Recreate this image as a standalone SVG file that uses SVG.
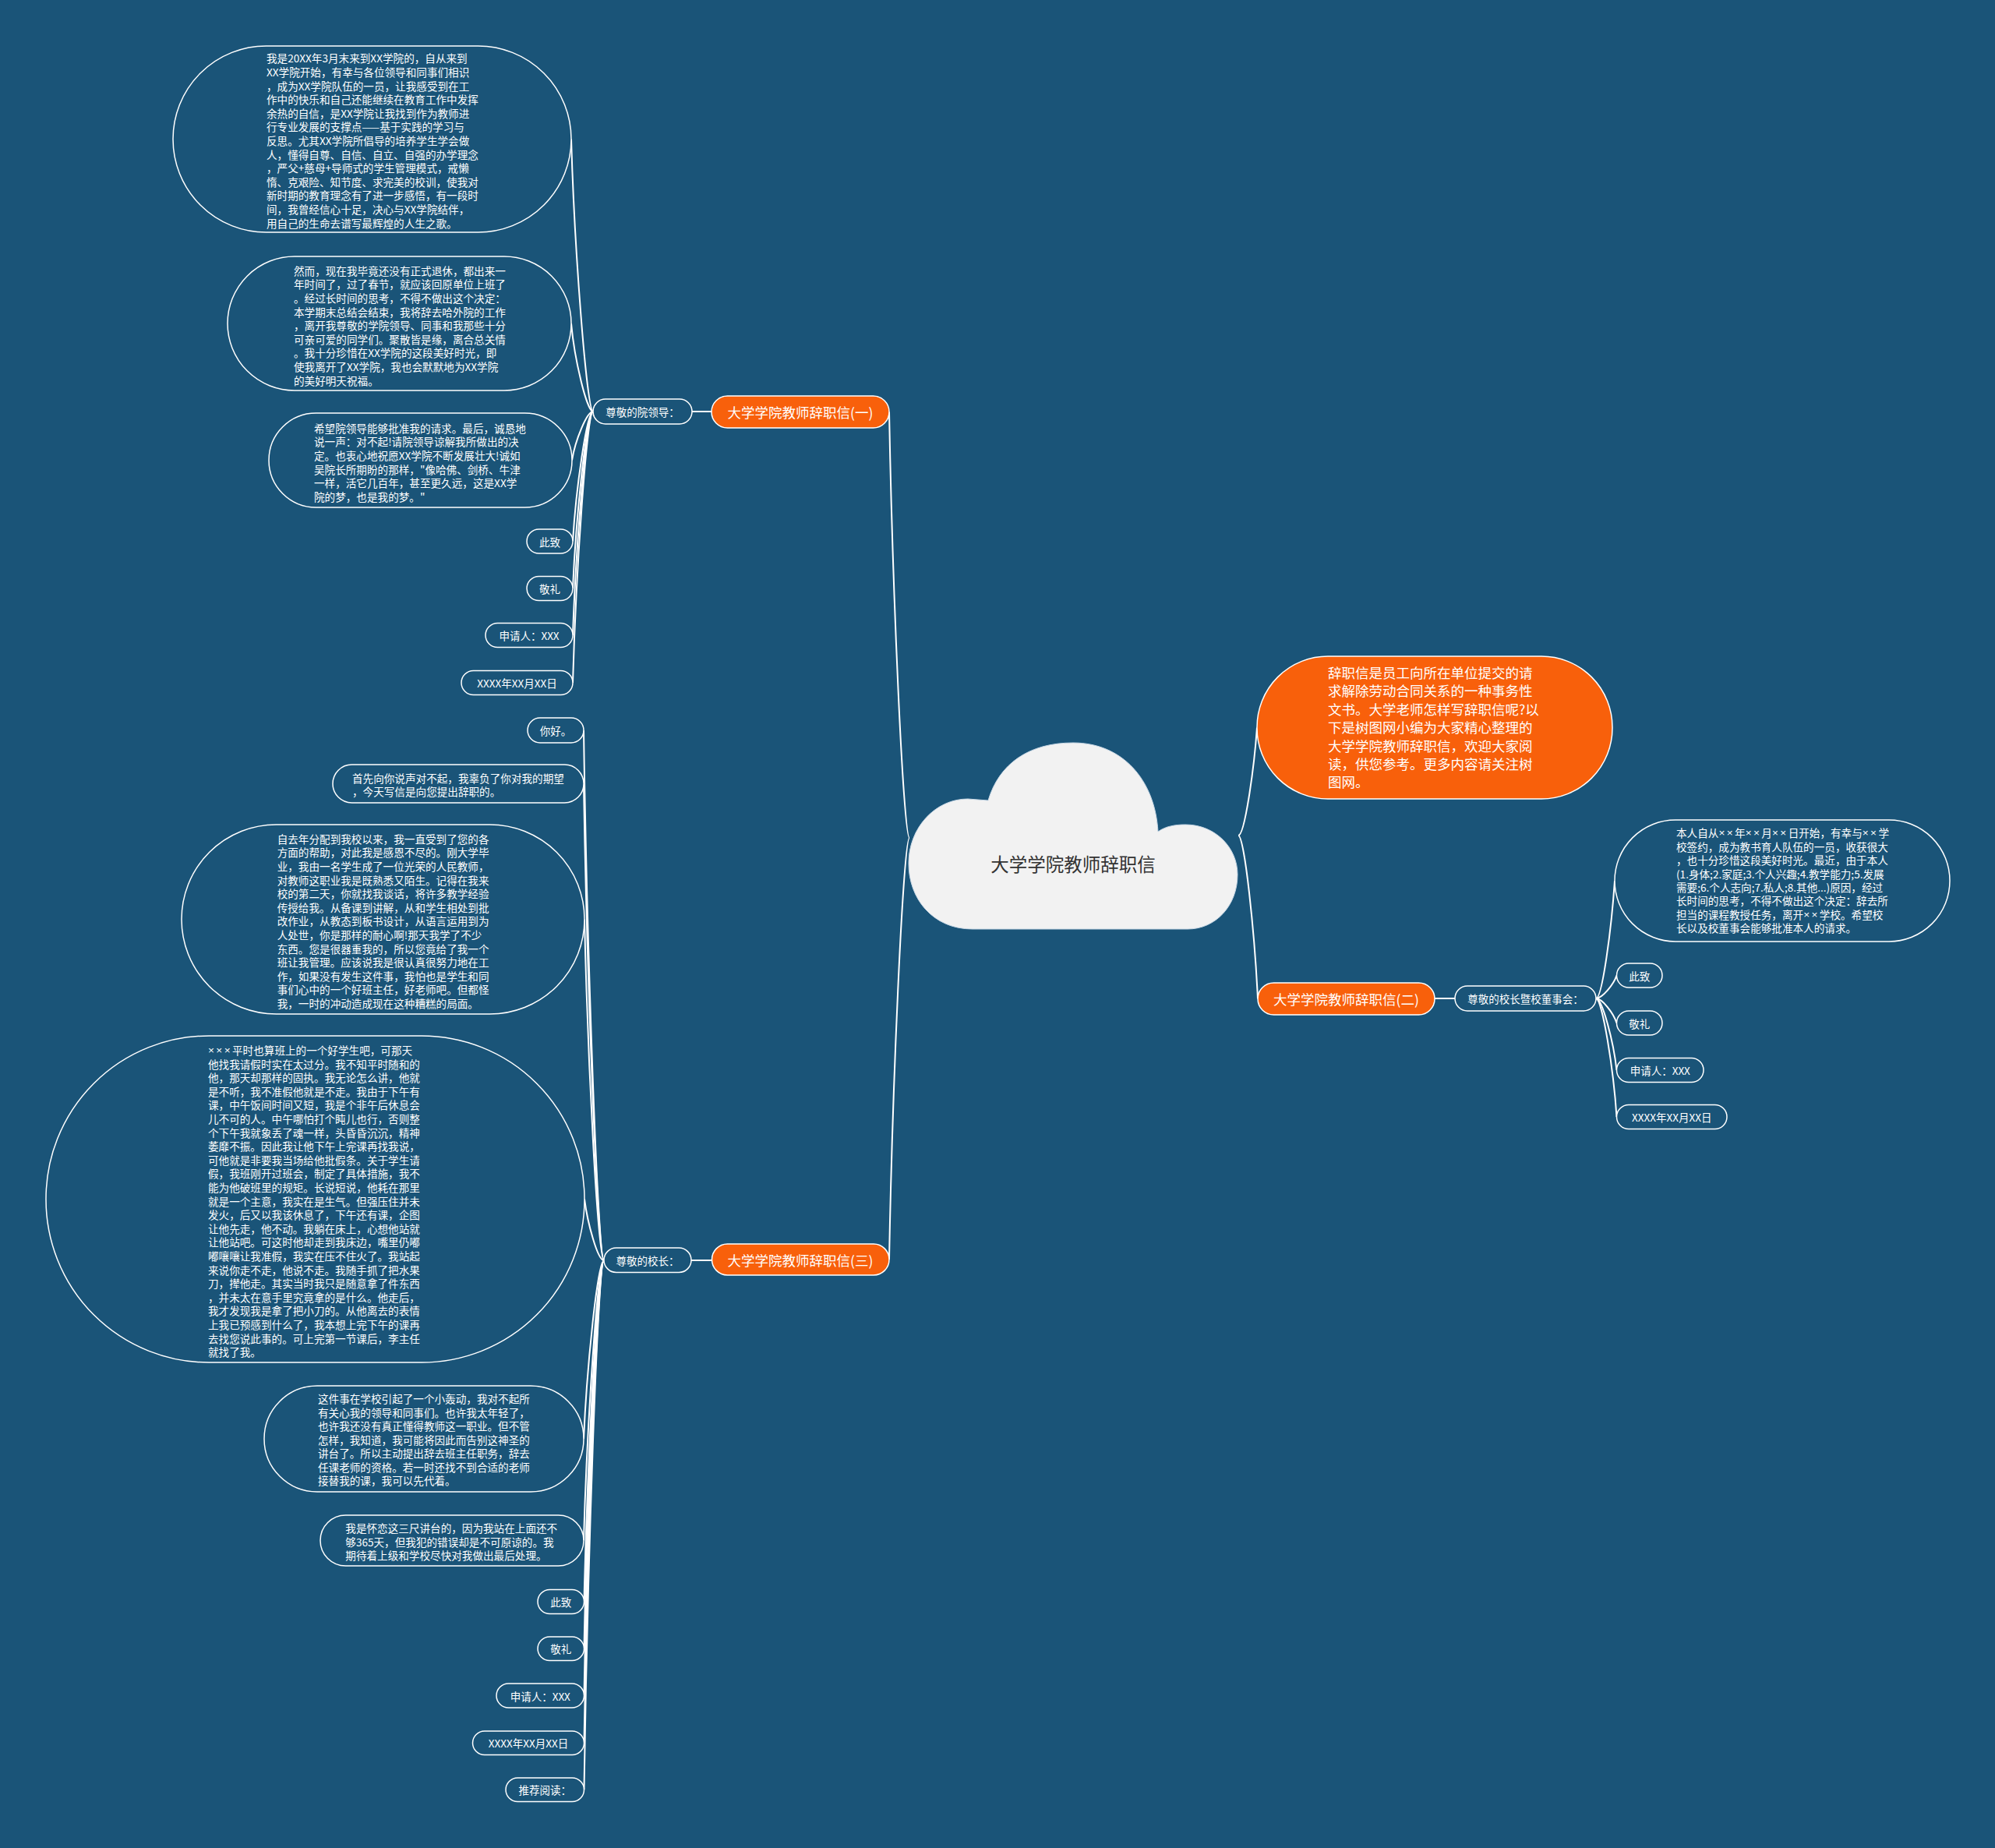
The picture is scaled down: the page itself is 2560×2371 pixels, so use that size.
<svg xmlns="http://www.w3.org/2000/svg" width="2560" height="2371" viewBox="0 0 2560 2371">
<style>
.bg{fill:#1a5478}
.box{fill:#1a5478;stroke:#ffffff;stroke-width:1.5}
.org{fill:#f8600b;stroke:#ffffff;stroke-width:1.5}
.link{fill:none;stroke:#ffffff;stroke-width:2}
text{font-family:"Noto Sans CJK SC","Liberation Sans",sans-serif;fill:#ffffff;dominant-baseline:central}
.lat{font-family:"Liberation Sans","Noto Sans CJK SC",sans-serif;letter-spacing:2.4px}
.p{font-size:13.6px}
.s{font-size:13.5px;text-anchor:middle}
.o{font-size:17.5px;text-anchor:middle}
.i{font-size:17.5px}
.root{font-size:23.5px;text-anchor:middle;fill:#333333}
</style>
<rect class="bg" x="0" y="0" width="2560" height="2371"/>
<g id="connectors">
<path class="link" d="M1589,1072 C1597,1072 1609,988.9 1613,933.5"/>
<path class="link" d="M1589,1072 C1597,1072 1610,1197.7 1614,1281.5"/>
<path class="link" d="M1167,1075 C1159,1075 1145,747.1 1141,528.5"/>
<path class="link" d="M1167,1075 C1159,1075 1145,1399.6 1141,1616"/>
<path class="link" d="M888,528 L913,528"/>
<path class="link" d="M761,528 C753,528 737,318 733,178.5"/>
<path class="link" d="M761,528 C753,528 737,460.2 733,415"/>
<path class="link" d="M761,528 C753,528 738,565.5 734,590.5"/>
<path class="link" d="M761,528 C753,528 739,627.9 735,694.5"/>
<path class="link" d="M761,528 C753,528 739,664.2 735,755"/>
<path class="link" d="M761,528 C753,528 739,700.2 735,815"/>
<path class="link" d="M761,528 C753,528 739,736.8 735,876"/>
<path class="link" d="M1841,1281 L1867,1281"/>
<path class="link" d="M2048,1281 C2056,1281 2068,1190.4 2072,1130"/>
<path class="link" d="M2048,1281 C2056,1281 2070.5,1263.3 2074.5,1251.5"/>
<path class="link" d="M2048,1281 C2056,1281 2070.5,1299.9 2074.5,1312.5"/>
<path class="link" d="M2048,1281 C2056,1281 2070.5,1336.2 2074.5,1373"/>
<path class="link" d="M2048,1281 C2056,1281 2070.5,1372.2 2074.5,1433"/>
<path class="link" d="M887,1617 L913.5,1617"/>
<path class="link" d="M775,1617 C767,1617 753,1209 749,937"/>
<path class="link" d="M775,1617 C767,1617 753,1250.1 749,1005.5"/>
<path class="link" d="M775,1617 C767,1617 754,1354.5 750,1179.5"/>
<path class="link" d="M775,1617 C767,1617 754,1569.9 750,1538.5"/>
<path class="link" d="M775,1617 C767,1617 753,1754.4 749,1846"/>
<path class="link" d="M775,1617 C767,1617 753,1832.6 749,1976.4"/>
<path class="link" d="M775,1617 C767,1617 753.5,1879.8 749.5,2055"/>
<path class="link" d="M775,1617 C767,1617 753.5,1915.8 749.5,2115"/>
<path class="link" d="M775,1617 C767,1617 753.5,1952.1 749.5,2175.5"/>
<path class="link" d="M775,1617 C767,1617 753.5,1988.4 749.5,2236"/>
<path class="link" d="M775,1617 C767,1617 753.5,2024.4 749.5,2296"/>
</g>
<g id="root">
<path d="M1248,1192 C1196,1192 1166,1152 1166,1108 C1166,1062 1200,1025 1242,1025 L1268,1027 C1282,980 1320,953 1377,953 C1440,953 1482,1000 1486,1067 C1496,1060 1508,1058 1521,1058 C1560,1058 1588,1088 1588,1122 C1588,1162 1560,1192 1524,1192 Z" fill="#f2f2f2" stroke="#c8d8e6" stroke-width="1"/>
<text class="root" x="1377" y="1108">大学学院教师辞职信</text>
</g>
<g id="intro">
<rect class="org" x="1613" y="842" width="456" height="183" rx="91" ry="91"/>
<text class="i" x="1704"><tspan x="1704" y="862">辞职信是员工向所在单位提交的请</tspan><tspan x="1704" y="885.4">求解除劳动合同关系的一种事务性</tspan><tspan x="1704" y="908.8">文书。大学老师怎样写辞职信呢?以</tspan><tspan x="1704" y="932.2">下是树图网小编为大家精心整理的</tspan><tspan x="1704" y="955.6">大学学院教师辞职信，欢迎大家阅</tspan><tspan x="1704" y="979">读，供您参考。更多内容请关注树</tspan><tspan x="1704" y="1002.4">图网。</tspan></text>
</g>
<g id="b1">
<rect class="org" x="913" y="508" width="228" height="41" rx="20.5" ry="20.5"/>
<text class="o" x="1027" y="528.5">大学学院教师辞职信(一)</text>
</g>
<g id="b1-to">
<rect class="box" x="761" y="512" width="127" height="32" rx="16" ry="16"/>
<text class="s" x="824.5" y="528">尊敬的院领导：</text>
</g>
<g id="b1-p1">
<rect class="box" x="222" y="59" width="511" height="239" rx="119.5" ry="119.5"/>
<text class="p"><tspan x="342" y="74.3">我是20XX年3月末来到XX学院的，自从来到</tspan><tspan x="342" y="91.9">XX学院开始，有幸与各位领导和同事们相识</tspan><tspan x="342" y="109.5">，成为XX学院队伍的一员，让我感受到在工</tspan><tspan x="342" y="127.1">作中的快乐和自己还能继续在教育工作中发挥</tspan><tspan x="342" y="144.7">余热的自信，是XX学院让我找到作为教师进</tspan><tspan x="342" y="162.3">行专业发展的支撑点——基于实践的学习与</tspan><tspan x="342" y="179.9">反思。尤其XX学院所倡导的培养学生学会做</tspan><tspan x="342" y="197.5">人，懂得自尊、自信、自立、自强的办学理念</tspan><tspan x="342" y="215.1">，严父+慈母+导师式的学生管理模式，戒懒</tspan><tspan x="342" y="232.7">惰、克艰险、知节度、求完美的校训，使我对</tspan><tspan x="342" y="250.3">新时期的教育理念有了进一步感悟，有一段时</tspan><tspan x="342" y="267.9">间，我曾经信心十足，决心与XX学院结伴，</tspan><tspan x="342" y="285.5">用自己的生命去谱写最辉煌的人生之歌。</tspan></text>
</g>
<g id="b1-p2">
<rect class="box" x="292" y="329" width="441" height="172" rx="86" ry="86"/>
<text class="p"><tspan x="377" y="346.7">然而，现在我毕竟还没有正式退休，都出来一</tspan><tspan x="377" y="364.3">年时间了，过了春节，就应该回原单位上班了</tspan><tspan x="377" y="381.9">。经过长时间的思考，不得不做出这个决定：</tspan><tspan x="377" y="399.5">本学期末总结会结束，我将辞去哈外院的工作</tspan><tspan x="377" y="417.1">，离开我尊敬的学院领导、同事和我那些十分</tspan><tspan x="377" y="434.7">可亲可爱的同学们。聚散皆是缘，离合总关情</tspan><tspan x="377" y="452.3">。我十分珍惜在XX学院的这段美好时光，即</tspan><tspan x="377" y="469.9">使我离开了XX学院，我也会默默地为XX学院</tspan><tspan x="377" y="487.5">的美好明天祝福。</tspan></text>
</g>
<g id="b1-p3">
<rect class="box" x="345" y="530" width="389" height="121" rx="60.5" ry="60.5"/>
<text class="p"><tspan x="403" y="548.7">希望院领导能够批准我的请求。最后，诚恳地</tspan><tspan x="403" y="566.3">说一声：对不起!请院领导谅解我所做出的决</tspan><tspan x="403" y="583.9">定。也衷心地祝愿XX学院不断发展壮大!诚如</tspan><tspan x="403" y="601.5">吴院长所期盼的那样，"像哈佛、剑桥、牛津</tspan><tspan x="403" y="619.1">一样，活它几百年，甚至更久远，这是XX学</tspan><tspan x="403" y="636.7">院的梦，也是我的梦。"</tspan></text>
</g>
<g id="b1-c1">
<rect class="box" x="676" y="679" width="59" height="31" rx="15.5" ry="15.5"/>
<text class="s" x="705.5" y="694.5">此致</text>
</g>
<g id="b1-c2">
<rect class="box" x="676" y="739.5" width="59" height="31" rx="15.5" ry="15.5"/>
<text class="s" x="705.5" y="755">敬礼</text>
</g>
<g id="b1-c3">
<rect class="box" x="623" y="799.5" width="112" height="31" rx="15.5" ry="15.5"/>
<text class="s" x="679" y="815">申请人：XXX</text>
</g>
<g id="b1-c4">
<rect class="box" x="592" y="860.5" width="143" height="31" rx="15.5" ry="15.5"/>
<text class="s" x="663.5" y="876">XXXX年XX月XX日</text>
</g>
<g id="b2">
<rect class="org" x="1614" y="1261" width="227" height="41" rx="20.5" ry="20.5"/>
<text class="o" x="1727.5" y="1281.5">大学学院教师辞职信(二)</text>
</g>
<g id="b2-to">
<rect class="box" x="1867" y="1265" width="181" height="32" rx="16" ry="16"/>
<text class="s" x="1957.5" y="1281">尊敬的校长暨校董事会：</text>
</g>
<g id="b2-p1">
<rect class="box" x="2072" y="1052" width="430" height="156" rx="78" ry="78"/>
<text class="p"><tspan x="2151" y="1068.3">本人自从<tspan class="lat">××</tspan>年<tspan class="lat">××</tspan>月<tspan class="lat">××</tspan>日开始，有幸与<tspan class="lat">××</tspan>学</tspan><tspan x="2151" y="1085.7">校签约，成为教书育人队伍的一员，收获很大</tspan><tspan x="2151" y="1103.1">，也十分珍惜这段美好时光。最近，由于本人</tspan><tspan x="2151" y="1120.5">(1.身体;2.家庭;3.个人兴趣;4.教学能力;5.发展</tspan><tspan x="2151" y="1137.9">需要;6.个人志向;7.私人;8.其他...)原因，经过</tspan><tspan x="2151" y="1155.3">长时间的思考，不得不做出这个决定：辞去所</tspan><tspan x="2151" y="1172.7">担当的课程教授任务，离开<tspan class="lat">××</tspan>学校。希望校</tspan><tspan x="2151" y="1190.1">长以及校董事会能够批准本人的请求。</tspan></text>
</g>
<g id="b2-c1">
<rect class="box" x="2074.5" y="1236" width="58.5" height="31" rx="15.5" ry="15.5"/>
<text class="s" x="2103.75" y="1251.5">此致</text>
</g>
<g id="b2-c2">
<rect class="box" x="2074.5" y="1297" width="58.5" height="31" rx="15.5" ry="15.5"/>
<text class="s" x="2103.75" y="1312.5">敬礼</text>
</g>
<g id="b2-c3">
<rect class="box" x="2074.5" y="1357.5" width="111.5" height="31" rx="15.5" ry="15.5"/>
<text class="s" x="2130.25" y="1373">申请人：XXX</text>
</g>
<g id="b2-c4">
<rect class="box" x="2074.5" y="1417.5" width="141.5" height="31" rx="15.5" ry="15.5"/>
<text class="s" x="2145.25" y="1433">XXXX年XX月XX日</text>
</g>
<g id="b3">
<rect class="org" x="913.5" y="1596" width="227.5" height="40" rx="20" ry="20"/>
<text class="o" x="1027" y="1616">大学学院教师辞职信(三)</text>
</g>
<g id="b3-to">
<rect class="box" x="775" y="1601" width="112" height="31.5" rx="15.75" ry="15.75"/>
<text class="s" x="831" y="1617">尊敬的校长：</text>
</g>
<g id="b3-p0">
<rect class="box" x="677" y="921" width="72" height="32" rx="16" ry="16"/>
<text class="s" x="713" y="937">你好。</text>
</g>
<g id="b3-p1">
<rect class="box" x="427" y="981" width="322" height="49" rx="24.5" ry="24.5"/>
<text class="p"><tspan x="452" y="998">首先向你说声对不起，我辜负了你对我的期望</tspan><tspan x="452" y="1015">，今天写信是向您提出辞职的。</tspan></text>
</g>
<g id="b3-p2">
<rect class="box" x="233" y="1058" width="517" height="243" rx="121.5" ry="121.5"/>
<text class="p"><tspan x="355.7" y="1075.7">自去年分配到我校以来，我一直受到了您的各</tspan><tspan x="355.7" y="1093.3">方面的帮助，对此我是感恩不尽的。刚大学毕</tspan><tspan x="355.7" y="1110.9">业，我由一名学生成了一位光荣的人民教师，</tspan><tspan x="355.7" y="1128.5">对教师这职业我是既熟悉又陌生。记得在我来</tspan><tspan x="355.7" y="1146.1">校的第二天，你就找我谈话，将许多教学经验</tspan><tspan x="355.7" y="1163.7">传授给我。从备课到讲解，从和学生相处到批</tspan><tspan x="355.7" y="1181.3">改作业，从教态到板书设计，从语言运用到为</tspan><tspan x="355.7" y="1198.9">人处世，你是那样的耐心啊!那天我学了不少</tspan><tspan x="355.7" y="1216.5">东西。您是很器重我的，所以您竟给了我一个</tspan><tspan x="355.7" y="1234.1">班让我管理。应该说我是很认真很努力地在工</tspan><tspan x="355.7" y="1251.7">作，如果没有发生这件事，我怕也是学生和同</tspan><tspan x="355.7" y="1269.3">事们心中的一个好班主任，好老师吧。但都怪</tspan><tspan x="355.7" y="1286.9">我，一时的冲动造成现在这种糟糕的局面。</tspan></text>
</g>
<g id="b3-p3">
<rect class="box" x="59" y="1329" width="691" height="419" rx="209" ry="209"/>
<text class="p"><tspan x="267" y="1347"><tspan class="lat">×××</tspan>平时也算班上的一个好学生吧，可那天</tspan><tspan x="267" y="1364.6">他找我请假时实在太过分。我不知平时随和的</tspan><tspan x="267" y="1382.2">他，那天却那样的固执。我无论怎么讲，他就</tspan><tspan x="267" y="1399.8">是不听，我不准假他就是不走。我由于下午有</tspan><tspan x="267" y="1417.4">课，中午饭间时间又短，我是个非午后休息会</tspan><tspan x="267" y="1435">儿不可的人。中午哪怕打个盹儿也行，否则整</tspan><tspan x="267" y="1452.6">个下午我就象丢了魂一样，头昏昏沉沉，精神</tspan><tspan x="267" y="1470.2">萎靡不振。因此我让他下午上完课再找我说，</tspan><tspan x="267" y="1487.8">可他就是非要我当场给他批假条。关于学生请</tspan><tspan x="267" y="1505.4">假，我班刚开过班会，制定了具体措施，我不</tspan><tspan x="267" y="1523">能为他破班里的规矩。长说短说，他耗在那里</tspan><tspan x="267" y="1540.6">就是一个主意，我实在是生气。但强压住并未</tspan><tspan x="267" y="1558.2">发火，后又以我该休息了，下午还有课，企图</tspan><tspan x="267" y="1575.8">让他先走，他不动。我躺在床上，心想他站就</tspan><tspan x="267" y="1593.4">让他站吧。可这时他却走到我床边，嘴里仍嘟</tspan><tspan x="267" y="1611">嘟嚷嚷让我准假，我实在压不住火了。我站起</tspan><tspan x="267" y="1628.6">来说你走不走，他说不走。我随手抓了把水果</tspan><tspan x="267" y="1646.2">刀，撵他走。其实当时我只是随意拿了件东西</tspan><tspan x="267" y="1663.8">，并未太在意手里究竟拿的是什么。他走后，</tspan><tspan x="267" y="1681.4">我才发现我是拿了把小刀的。从他离去的表情</tspan><tspan x="267" y="1699">上我已预感到什么了，我本想上完下午的课再</tspan><tspan x="267" y="1716.6">去找您说此事的。可上完第一节课后，李主任</tspan><tspan x="267" y="1734.2">就找了我。</tspan></text>
</g>
<g id="b3-p4">
<rect class="box" x="339" y="1778" width="410" height="136" rx="68" ry="68"/>
<text class="p"><tspan x="408" y="1794.3">这件事在学校引起了一个小轰动，我对不起所</tspan><tspan x="408" y="1811.8">有关心我的领导和同事们。也许我太年轻了，</tspan><tspan x="408" y="1829.3">也许我还没有真正懂得教师这一职业。但不管</tspan><tspan x="408" y="1846.8">怎样，我知道，我可能将因此而告别这神圣的</tspan><tspan x="408" y="1864.3">讲台了。所以主动提出辞去班主任职务，辞去</tspan><tspan x="408" y="1881.8">任课老师的资格。若一时还找不到合适的老师</tspan><tspan x="408" y="1899.3">接替我的课，我可以先代着。</tspan></text>
</g>
<g id="b3-p5">
<rect class="box" x="411" y="1944" width="338" height="65" rx="32.5" ry="32.5"/>
<text class="p"><tspan x="443.3" y="1960">我是怀恋这三尺讲台的，因为我站在上面还不</tspan><tspan x="443.3" y="1977.5">够365天，但我犯的错误却是不可原谅的。我</tspan><tspan x="443.3" y="1995">期待着上级和学校尽快对我做出最后处理。</tspan></text>
</g>
<g id="b3-c1">
<rect class="box" x="690" y="2039.5" width="59.5" height="31" rx="15.5" ry="15.5"/>
<text class="s" x="719.75" y="2055">此致</text>
</g>
<g id="b3-c2">
<rect class="box" x="690" y="2100" width="59.5" height="30.5" rx="15.25" ry="15.25"/>
<text class="s" x="719.75" y="2115">敬礼</text>
</g>
<g id="b3-c3">
<rect class="box" x="637" y="2160" width="112.5" height="31" rx="15.5" ry="15.5"/>
<text class="s" x="693.25" y="2175.5">申请人：XXX</text>
</g>
<g id="b3-c4">
<rect class="box" x="606.5" y="2221" width="143" height="30.5" rx="15.25" ry="15.25"/>
<text class="s" x="678" y="2236">XXXX年XX月XX日</text>
</g>
<g id="b3-c5">
<rect class="box" x="649" y="2281" width="100.5" height="30.5" rx="15.25" ry="15.25"/>
<text class="s" x="699.25" y="2296">推荐阅读：</text>
</g>
</svg>
